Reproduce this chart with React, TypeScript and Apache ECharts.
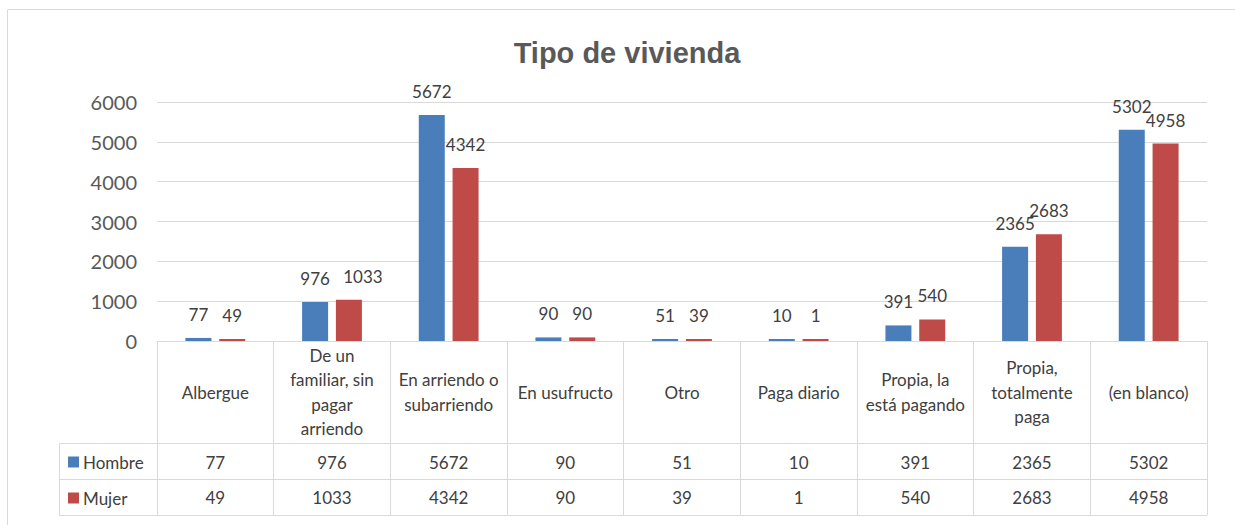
import React, { useEffect, useRef } from "react";
import * as echarts from "echarts";

const title = "Tipo de vivienda";
const categories = [
  "Albergue",
  "De un\nfamiliar, sin\npagar\narriendo",
  "En arriendo o\nsubarriendo",
  "En usufructo",
  "Otro",
  "Paga diario",
  "Propia, la\nestá pagando",
  "Propia,\ntotalmente\npaga",
  "(en blanco)",
];
const seriesNames = ["Hombre", "Mujer"];
const hombre = [77, 976, 5672, 90, 51, 10, 391, 2365, 5302];
const mujer = [49, 1033, 4342, 90, 39, 1, 540, 2683, 4958];
const yTicks = { min: 0, max: 6000, interval: 1000 };

const BLUE = "#4a7ebb";
const RED = "#be4b48";
const TXT = "#404040";
const GRID = "#d9d9d9";
const FONT = "Lato, 'Open Sans', sans-serif";

export default function App() {
  const ref = useRef<HTMLDivElement>(null);
  useEffect(() => {
    if (!ref.current) return;
    const chart = echarts.init(ref.current, null, { renderer: "svg" });
    const gridLeft = 157;
    const gridRight = 1207;
    const axisY = 341;
    const rowLines = [443, 479, 515];
    const valueAxis = (vals: number[], margin: number) => ({
      type: "category",
      gridIndex: 0,
      position: "bottom",
      data: vals.map((v) => String(v)),
      axisLine: { show: false },
      axisTick: { show: false },
      axisLabel: {
        interval: 0,
        margin,
        verticalAlign: "middle",
        fontSize: 17,
        color: TXT,
        fontFamily: FONT,
      },
    });
    const labelStyle = {
      show: true,
      position: "top",
      distance: 15,
      fontSize: 17,
      color: TXT,
      fontFamily: FONT,
    };
    const line = (x1: number, y1: number, x2: number, y2: number, stroke: string) => ({
      type: "line",
      shape: { x1, y1, x2, y2 },
      style: { stroke, lineWidth: 1 },
      silent: true,
    });
    chart.setOption({
      animation: false,
      backgroundColor: "#ffffff",
      title: {
        text: title,
        left: 622,
        textAlign: "center",
        top: 33,
        textStyle: {
          fontSize: 29,
          fontWeight: "bold",
          color: "#595959",
          fontFamily: "'Liberation Sans', Arial, sans-serif",
        },
      },
      legend: {
        orient: "vertical",
        left: 68,
        top: 452,
        padding: 0,
        itemWidth: 11,
        itemHeight: 11,
        itemGap: 16,
        icon: "rect",
        data: seriesNames,
        textStyle: { fontSize: 17, color: TXT, fontFamily: FONT, lineHeight: 20, padding: [0, 0, 0, -1] },
      },
      grid: { left: gridLeft, right: 1235 - gridRight, top: 102, bottom: 525 - axisY },
      xAxis: [
        {
          type: "category",
          data: categories,
          axisLine: { show: true, lineStyle: { color: GRID, width: 1 } },
          axisTick: {
            show: true,
            interval: 0,
            length: rowLines[2] - axisY,
            lineStyle: { color: GRID, width: 1 },
          },
          axisLabel: {
            interval: 0,
            margin: 51,
            verticalAlign: "middle",
            fontSize: 17,
            lineHeight: 24.5,
            color: TXT,
            fontFamily: FONT,
          },
        },
        valueAxis(hombre, 121),
        valueAxis(mujer, 156),
      ],
      yAxis: {
        type: "value",
        min: yTicks.min,
        max: yTicks.max,
        interval: yTicks.interval,
        axisLine: { show: false },
        axisTick: { show: false },
        splitLine: { lineStyle: { color: GRID, width: 1 } },
        axisLabel: {
          fontSize: 20,
          color: "#595959",
          margin: 20,
          fontFamily: FONT,
          formatter: (v: number) => String(v),
        },
      },
      series: [
        {
          name: seriesNames[0],
          type: "bar",
          data: hombre,
          barWidth: 26,
          barGap: "30%",
          barMinHeight: 2,
          itemStyle: { color: BLUE },
          label: labelStyle,
        },
        {
          name: seriesNames[1],
          type: "bar",
          // Excel nudges the overlapping 1033 label to the right
          data: mujer.map((v, i) =>
            i === 1 ? { value: v, label: { offset: [14, 0] } } : v
          ),
          barWidth: 26,
          barGap: "30%",
          barMinHeight: 2,
          itemStyle: { color: RED },
          label: labelStyle,
        },
      ],
      graphic: [
        line(8, 9.5, 1235, 9.5, "#d9d9d9"),
        line(7.5, 9.5, 7.5, 525, "#d9d9d9"),
        ...rowLines.map((y) => line(59.5, y + 0.5, gridRight, y + 0.5, GRID)),
        line(59.5, rowLines[0] + 0.5, 59.5, rowLines[2] + 0.5, GRID),
      ],
    });
    return () => chart.dispose();
  }, []);
  return (
    <div
      ref={ref}
      style={{ position: "fixed", left: 0, top: 0, width: 1235, height: 525 }}
    />
  );
}
